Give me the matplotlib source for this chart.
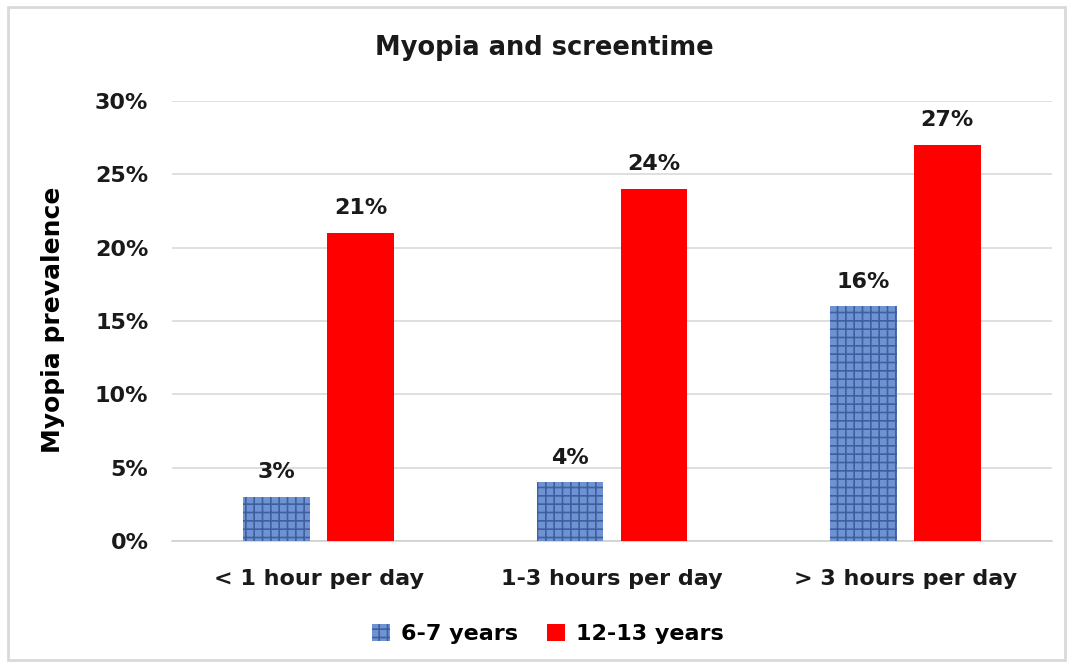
import matplotlib
matplotlib.use("Agg")
import matplotlib.pyplot as plt
from matplotlib.patches import Rectangle, Patch
import numpy as np

categories = ["< 1 hour per day", "1-3 hours per day", "> 3 hours per day"]
series_names = ["6-7 years", "12-13 years"]
young = [0.03, 0.04, 0.16]
older = [0.21, 0.24, 0.27]
yticks = [0, 0.05, 0.10, 0.15, 0.20, 0.25, 0.30]
ytick_labels = ["0%", "5%", "10%", "15%", "20%", "25%", "30%"]

plt.rcParams['font.family'] = ['DejaVu Sans']
plt.rcParams['hatch.linewidth'] = 1.2

FS = 16
fig = plt.figure(figsize=(10.72, 6.68), dpi=100)
fig.patches.append(Rectangle((8/1072, 1-660/668), 1057/1072, 653/668, transform=fig.transFigure,
                             fill=False, edgecolor="#d9d9d9", linewidth=2))
ax = fig.add_axes([172/1072, 1-541/668, 880/1072, 440/668])

x = np.arange(len(categories))
w = 0.228
off = 0.143
blue_face = "#6f93d2"
blue_hatch = "#3f609f"
ax.bar(x - off, young, w, color=blue_face, zorder=3)
ax.bar(x - off, young, w, fill=False, hatch="++", edgecolor=blue_hatch, linewidth=0, zorder=4)
ax.bar(x + off, older, w, color="#ff0000", zorder=3)

for xi, v in zip(x - off, young):
    ax.text(xi, v + 0.010, f"{round(v*100)}%", ha="center", va="bottom", fontsize=FS, fontweight="bold", color="#1a1a1a")
for xi, v in zip(x + off, older):
    ax.text(xi, v + 0.010, f"{round(v*100)}%", ha="center", va="bottom", fontsize=FS, fontweight="bold", color="#1a1a1a")

ax.set_xlim(-0.5, 2.5)
ax.set_ylim(0, 0.30)
ax.set_yticks(yticks)
ax.set_yticklabels(ytick_labels, fontsize=FS, fontweight="bold", color="#1a1a1a")
ax.set_xticks(x)
ax.set_xticklabels(categories, fontsize=FS, fontweight="bold", color="#1a1a1a")
ax.tick_params(axis="x", length=0, pad=20)
ax.tick_params(axis="y", length=0, pad=17)
ax.grid(axis="y", color="#d9d9d9", linewidth=1.2, zorder=0)
for s in ["top", "right", "left"]:
    ax.spines[s].set_visible(False)
ax.spines["bottom"].set_color("#d0d0d0")
ax.spines["bottom"].set_linewidth(1.2)

ax.set_ylabel("Myopia prevalence", fontsize=18, fontweight="bold", color="#000000", labelpad=12)
ax.yaxis.set_label_coords(65/1072, 1-320/668, transform=fig.transFigure)
fig.text(544/1072, 1-48/668, "Myopia and screentime", ha="center", va="center", fontsize=18.5, fontweight="bold", color="#1a1a1a")

handles = [Patch(facecolor=blue_face, hatch="++", edgecolor=blue_hatch, linewidth=0),
           Patch(facecolor="#ff0000")]
fig.legend(handles, series_names, loc="center", bbox_to_anchor=(548/1072, 1-634/668), ncol=2,
           frameon=False, prop={"size": FS, "weight": "bold"}, handlelength=0.8, handleheight=0.8,
           columnspacing=1.3, handletextpad=0.5)

fig.savefig("out.png", dpi=100)
